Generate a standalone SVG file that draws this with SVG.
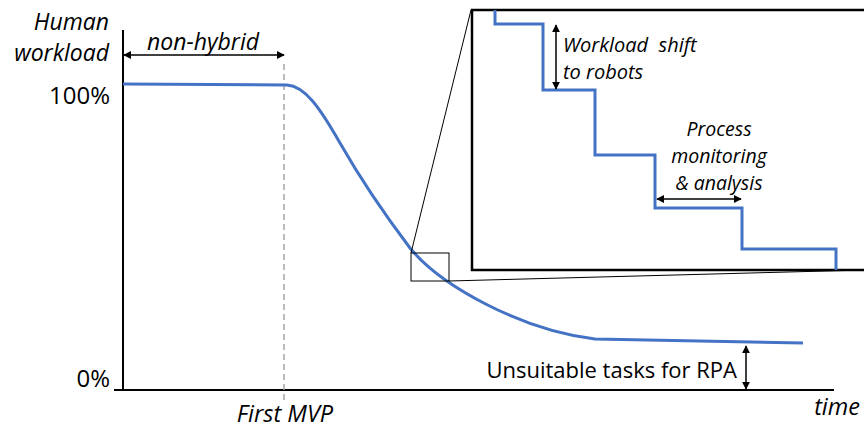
<svg xmlns="http://www.w3.org/2000/svg" width="864" height="433" viewBox="0 0 864 433">
<style>
  .t{font-family:"Open Sans","Liberation Sans",sans-serif;fill:#000}
  .i{font-style:italic}
  .ax{stroke:#000;stroke-width:2;fill:none}
  .arr{stroke:#000;stroke-width:1.5;fill:none;marker-start:url(#ah);marker-end:url(#ah)}
  .blue{stroke:#4472C4;stroke-width:3;fill:none}
  .thin{stroke:#000;stroke-width:1;fill:none}
</style>
<defs>
  <marker id="ah" viewBox="0 0 10 10" refX="9" refY="5" markerWidth="8" markerHeight="8" markerUnits="userSpaceOnUse" orient="auto-start-reverse">
    <path d="M0,0 L10,5 L0,10 Z" fill="#000"/>
  </marker>
</defs>
<rect width="864" height="433" fill="#fff"/>

<g id="axes">
  <line class="ax" x1="123" y1="30" x2="123" y2="391"/>
  <line class="ax" x1="114" y1="390" x2="834" y2="390"/>
  <line x1="284" y1="64" x2="284" y2="402" stroke="#A6A6A6" stroke-width="1.5" stroke-dasharray="6,4"/>
</g>

<g id="labels">
  <text class="t i" x="109" y="30" font-size="23" text-anchor="end">Human</text>
  <text class="t i" x="109" y="61" font-size="23" text-anchor="end">workload</text>
  <text class="t" x="110" y="104" font-size="24" text-anchor="end">100%</text>
  <text class="t" x="110" y="387" font-size="24" text-anchor="end">0%</text>
  <text class="t i" x="203" y="50" font-size="23" text-anchor="middle">non-hybrid</text>
  <text class="t i" x="285" y="422" font-size="23.5" text-anchor="middle">First MVP</text>
  <text class="t i" x="860" y="415" font-size="23.5" text-anchor="end">time</text>
  <text class="t" x="737" y="378" font-size="22" text-anchor="end">Unsuitable tasks for RPA</text>
</g>

<g id="curve">
  <path class="blue" d="M123,84 C200,84 260,85 287,85 C305,86 320,108 340,143 C360,178 385,215 410,248 C440,285 520,330 595,339 L803,343"/>
</g>

<g id="zoom-box">
  <rect class="thin" x="411" y="253" width="38" height="28"/>
</g>

<g id="inset">
  <rect x="472" y="10" width="400" height="260" fill="#fff" stroke="#000" stroke-width="2.5"/>
  <path class="blue" d="M495,10 V24 H543 V90 H595 V155 H655 V208 H742 V249 H836 V270"/>
  <text class="t i" x="563" y="52" font-size="20" xml:space="preserve">Workload  shift</text>
  <text class="t i" x="563" y="79" font-size="20">to robots</text>
  <text class="t i" x="719" y="136" font-size="19.5" text-anchor="middle">Process</text>
  <text class="t i" x="719" y="163" font-size="19.5" text-anchor="middle">monitoring</text>
  <text class="t i" x="719" y="190" font-size="19.5" text-anchor="middle">&amp; analysis</text>
</g>

<g id="connectors">
  <line class="thin" x1="411" y1="253" x2="471" y2="10"/>
  <line class="thin" x1="449" y1="281" x2="864" y2="270"/>
  <line class="arr" x1="124" y1="55" x2="284" y2="55"/>
  <line class="arr" x1="556" y1="25" x2="556" y2="89"/>
  <line class="arr" x1="657" y1="199" x2="741" y2="199"/>
  <line class="arr" x1="746" y1="346" x2="746" y2="389"/>
</g>
</svg>
